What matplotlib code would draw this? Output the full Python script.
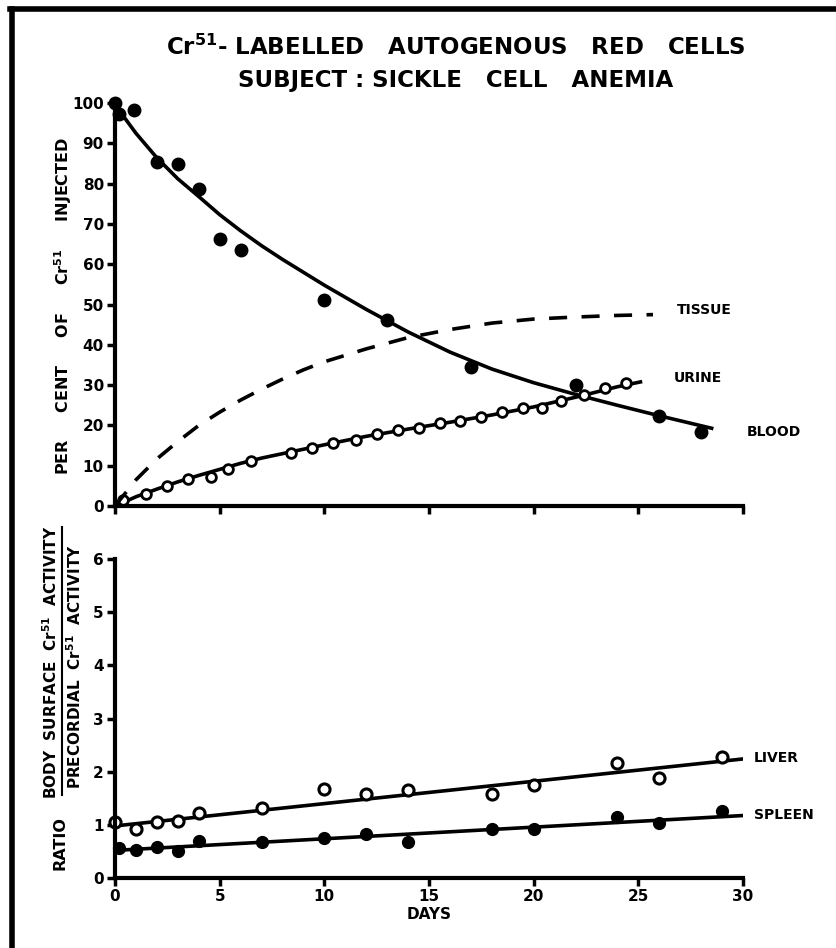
#!/usr/bin/env python3
"""
Cr51-labelled autogenous red cells, sickle cell anemia:
per cent of injected Cr51 in blood/urine/tissue, and surface/precordial ratios
"""

import matplotlib.pyplot as plt
from matplotlib.lines import Line2D

# --- upper panel: per cent of Cr51 injected ---
blood_days = [0, 0.2, 0.9, 2, 3, 4, 5, 6, 10, 13, 17, 22, 26, 28]
blood_vals = [100, 97.3, 98.3, 85.3, 84.8, 78.7, 66.3, 63.5, 51.2, 46.2, 34.6, 30.1, 22.4, 18.3]

blood_fit_days = [0, 0.25, 1, 2, 3, 4, 5, 6, 7, 8, 10, 12, 14, 16, 18, 20, 22, 24, 26, 28.5]
blood_fit_vals = [100, 97.8, 92.5, 86.4, 81.2, 76.8, 72.3, 68.3, 64.6, 61.2, 54.8, 48.8, 43.2, 38.2,
                  34.0, 30.6, 27.7, 25.0, 22.4, 19.3]

urine_days = [0.4, 1.5, 2.5, 3.5, 4.6, 5.4, 6.5, 8.4, 9.4, 10.4, 11.5, 12.5, 13.5, 14.5,
              15.5, 16.5, 17.5, 18.5, 19.5, 20.4, 21.3, 22.4, 23.4, 24.4]
urine_vals = [1.4, 3.0, 5.0, 6.6, 7.3, 9.2, 11.3, 13.1, 14.5, 15.6, 16.5, 18.0, 18.8, 19.3,
              20.6, 21.2, 22.2, 23.4, 24.3, 24.3, 26.0, 27.5, 29.3, 30.5]

urine_fit_days = [0, 1, 2, 3, 4, 5, 6, 7, 8, 10, 12, 14, 16, 18, 20, 22, 24, 25.1]
urine_fit_vals = [0, 2.3, 4.2, 6.0, 7.6, 9.1, 10.6, 11.9, 13.0, 15.2, 17.3, 19.1, 20.8, 22.6,
                  24.6, 27.0, 29.6, 30.8]

tissue_days = [0, 1, 2, 3, 4, 5, 6, 7, 8, 9, 10, 12, 14, 16, 18, 20, 22, 24, 25.7]
tissue_vals = [0, 6.5, 11.7, 16.0, 20.0, 23.3, 26.3, 29.0, 31.5, 33.8, 35.8, 39.0, 41.8, 43.8,
               45.4, 46.4, 46.9, 47.3, 47.5]

# --- lower panel: body surface / precordial activity ratio ---
liver_days = [0, 1, 2, 3, 4, 7, 10, 12, 14, 18, 20, 24, 26, 29]
liver_vals = [1.06, 0.93, 1.05, 1.08, 1.22, 1.31, 1.68, 1.59, 1.65, 1.58, 1.75, 2.16, 1.89, 2.27]
liver_fit_days = [0, 30]
liver_fit_vals = [0.98, 2.24]

spleen_days = [0.2, 1, 2, 3, 4, 7, 10, 12, 14, 18, 20, 24, 26, 29]
spleen_vals = [0.56, 0.52, 0.59, 0.51, 0.69, 0.67, 0.75, 0.82, 0.68, 0.92, 0.92, 1.14, 1.03, 1.26]
spleen_fit_days = [0, 30.2]
spleen_fit_vals = [0.52, 1.18]

top_yticks = list(range(0, 101, 10))
bot_yticks = list(range(0, 7))
xticks = list(range(0, 31, 5))

FONT = 'DejaVu Sans'
LW = 2.6


def style_axes(ax):
    for side in ('top', 'right'):
        ax.spines[side].set_visible(False)
    for side in ('left', 'bottom'):
        ax.spines[side].set_linewidth(3)
    ax.tick_params(direction='out', width=2.5, length=6, labelsize=11, pad=2)
    for lab in ax.get_xticklabels() + ax.get_yticklabels():
        lab.set_fontweight('bold')
        lab.set_family(FONT)


def main():
    fig = plt.figure(figsize=(8.36, 9.48), dpi=100)

    # top panel
    ax1 = fig.add_axes([0.1376, 0.4662, 0.7512, 0.4251])
    ax1.plot(blood_fit_days, blood_fit_vals, '-', color='black', lw=LW)
    ax1.plot(blood_days, blood_vals, 'o', color='black', ms=9, clip_on=False)
    ax1.plot(urine_fit_days, urine_fit_vals, '-', color='black', lw=LW)
    ax1.plot(urine_days, urine_vals, 'o', mfc='white', mec='black', mew=2, ms=7, clip_on=False)
    ax1.plot(tissue_days, tissue_vals, '--', color='black', lw=LW, dashes=(5, 4))
    ax1.set_xlim(0, 30)
    ax1.set_ylim(0, 100)
    ax1.set_xticks(xticks)
    ax1.set_xticklabels([])
    ax1.set_yticks(top_yticks)
    style_axes(ax1)

    ax1.text(26.85, 48.6, 'TISSUE', fontsize=10, fontweight='bold', va='center', ha='left')
    ax1.text(26.7, 31.8, 'URINE', fontsize=10, fontweight='bold', va='center', ha='left')
    ax1.text(30.2, 18.4, 'BLOOD', fontsize=10, fontweight='bold', va='center', ha='left')

    # bottom panel
    ax2 = fig.add_axes([0.1376, 0.0738, 0.7512, 0.3365])
    ax2.plot(liver_fit_days, liver_fit_vals, '-', color='black', lw=LW)
    ax2.plot(liver_days, liver_vals, 'o', mfc='white', mec='black', mew=2.2, ms=8, clip_on=False)
    ax2.plot(spleen_fit_days, spleen_fit_vals, '-', color='black', lw=LW)
    ax2.plot(spleen_days, spleen_vals, 'o', color='black', ms=8.5, clip_on=False)
    ax2.set_xlim(0, 30)
    ax2.set_ylim(0, 6)
    ax2.set_xticks(xticks)
    ax2.set_yticks(bot_yticks)
    style_axes(ax2)
    ax2.set_xlabel('DAYS', fontsize=11, fontweight='bold', labelpad=2)

    ax2.text(30.5, 2.26, 'LIVER', fontsize=10, fontweight='bold', va='center', ha='left')
    ax2.text(30.5, 1.18, 'SPLEEN', fontsize=10, fontweight='bold', va='center', ha='left')

    # titles
    fig.text(0.545, 0.950, r'Cr$^{\mathbf{51}}$- LABELLED   AUTOGENOUS   RED   CELLS',
             ha='center', va='center', fontsize=16.5, fontweight='bold')
    fig.text(0.545, 0.915, 'SUBJECT : SICKLE   CELL   ANEMIA',
             ha='center', va='center', fontsize=16.5, fontweight='bold')

    # y labels
    fig.text(0.076, 0.677, r'PER     CENT     OF     Cr$^{\mathbf{51}}$     INJECTED', rotation=90,
             ha='center', va='center', fontsize=11.5, fontweight='bold')
    fig.text(0.072, 0.111, 'RATIO', rotation=90, ha='center', va='center',
             fontsize=11.5, fontweight='bold')
    fig.text(0.061, 0.301, r'BODY  SURFACE  Cr$^{\mathbf{51}}$  ACTIVITY', rotation=90,
             ha='center', va='center', fontsize=11, fontweight='bold')
    fig.text(0.089, 0.297, r'PRECORDIAL  Cr$^{\mathbf{51}}$  ACTIVITY', rotation=90,
             ha='center', va='center', fontsize=11, fontweight='bold')
    fig.add_artist(Line2D([0.0745, 0.0745], [0.161, 0.444], color='black', lw=1.5,
                          transform=fig.transFigure))

    # page frame (left and top edges)
    fig.add_artist(Line2D([0.014, 0.014], [0.0, 0.991], color='black', lw=4,
                          transform=fig.transFigure))
    fig.add_artist(Line2D([0.012, 1.0], [0.991, 0.991], color='black', lw=4,
                          transform=fig.transFigure))

    fig.savefig('out.png', dpi=100, facecolor='white')


if __name__ == "__main__":
    main()
